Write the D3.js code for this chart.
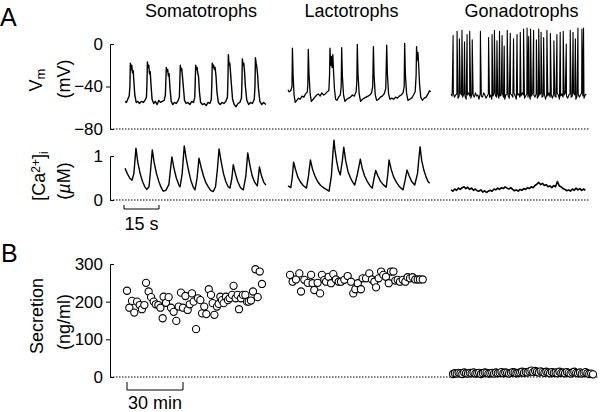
<!DOCTYPE html>
<html><head><meta charset="utf-8">
<script src="https://cdn.jsdelivr.net/npm/d3@7"></script>
<style>body{margin:0;background:#fff}svg{display:block}text{font-family:"Liberation Sans",Arial,sans-serif;fill:#000}</style>
</head><body><svg id="c" width="600" height="412"></svg>
<script>
const cells = ["Somatotrophs","Lactotrophs","Gonadotrophs"];
const vmTicks = [0,-40,-80];
const caTicks = [0,1];
const secTicks = [0,100,200,300];

// Vm traces: [time s, mV]
const somaVm = [[0,-54],[0.6,-55],[1.2,-52],[1.8,-49],[2.1,-40],[2.3,-18],[2.6,-24],[2.9,-20],[3.2,-27],[3.5,-25],[3.8,-35],[4.2,-48],[4.8,-55],[5.5,-54],[6.2,-56],[7,-54],[7.8,-55],[8.6,-53],[9.2,-50],[9.4,-38],[9.6,-17],[9.9,-22],[10.2,-20],[10.5,-28],[10.8,-26],[11.2,-40],[11.6,-52],[12.3,-56],[13,-54],[13.8,-57],[14.5,-53],[15.2,-55],[16,-54],[16.8,-53],[17.3,-48],[17.5,-35],[17.7,-22],[18,-26],[18.3,-24],[18.6,-30],[18.9,-28],[19.3,-42],[19.8,-54],[20.5,-57],[21.2,-55],[22,-56],[22.8,-53],[23.3,-50],[23.5,-35],[23.7,-20],[24,-25],[24.3,-23],[24.6,-30],[25,-40],[25.5,-53],[26.2,-56],[27,-55],[27.8,-57],[28.6,-54],[29.4,-55],[29.9,-50],[30.1,-35],[30.3,-20],[30.6,-24],[30.9,-22],[31.2,-28],[31.5,-30],[31.9,-45],[32.4,-55],[33.2,-57],[34,-56],[34.8,-58],[35.6,-55],[36.4,-56],[37,-52],[37.2,-38],[37.4,-18],[37.7,-22],[38,-20],[38.3,-24],[38.6,-22],[39,-30],[39.4,-45],[40,-55],[40.8,-57],[41.6,-55],[42.4,-56],[43.2,-54],[43.9,-50],[44.1,-35],[44.3,-10],[44.6,-20],[44.9,-18],[45.2,-26],[45.6,-38],[46.1,-52],[46.8,-57],[47.6,-59],[48.4,-56],[49.2,-55],[49.9,-51],[50.1,-38],[50.3,-14],[50.6,-20],[50.9,-18],[51.2,-25],[51.6,-40],[52.2,-53],[53,-57],[53.8,-55],[54.6,-56],[55.4,-52],[55.7,-40],[55.9,-13],[56.2,-18],[56.5,-22],[56.8,-28],[57.2,-42],[57.8,-54],[58.6,-57],[59.4,-55],[60.4,-57]];
const lactoVm = [[0,-43],[0.5,-45],[1.2,-44],[1.7,-40],[1.9,-4],[2.2,-30],[2.6,-48],[3.1,-55],[3.8,-53],[4.5,-51],[5.2,-52],[6,-49],[6.8,-50],[7.5,-47],[8.3,-45],[8.5,-38],[8.7,-5],[9,-28],[9.5,-47],[10,-54],[10.8,-52],[11.5,-50],[12.3,-48],[13,-47],[13.8,-49],[14.5,-46],[15.3,-48],[16,-47],[16.8,-45],[17.5,-44],[17.8,-30],[18,-4],[18.3,-20],[18.6,-12],[18.9,-22],[19.2,-10],[19.5,-25],[19.9,-42],[20.4,-52],[21,-53],[21.7,-50],[22.4,-48],[22.8,-40],[23,-3.5],[23.3,-30],[23.8,-48],[24.4,-54],[25.2,-52],[26,-51],[26.8,-50],[27.6,-48],[28.4,-49],[29.2,-45],[29.5,-35],[29.7,-0.3],[30,-28],[30.5,-47],[31.1,-54],[31.9,-52],[32.7,-51],[33.5,-50],[34.3,-49],[35.1,-48],[35.8,-46],[36.3,-40],[36.6,-2.5],[36.9,-30],[37.4,-48],[38,-53],[38.8,-52],[39.6,-50],[40.4,-49],[41.2,-47],[41.9,-42],[42.3,-1],[42.6,-28],[43.1,-47],[43.7,-52],[44.5,-51],[45.3,-52],[46.1,-50],[46.9,-51],[47.7,-49],[48.5,-48],[49.3,-46],[49.8,-40],[50,0.6],[50.3,-28],[50.8,-46],[51.4,-53],[52.2,-52],[53,-51],[53.8,-48],[54.5,-45],[54.9,-30],[55.1,-2.5],[55.4,-15],[55.7,-8],[56,-20],[56.4,-38],[56.9,-50],[57.6,-53],[58.4,-51],[59.2,-50],[60,-47],[60.6,-44],[61.2,-45]];
const gonadoVmBaseStep = 0.5; // sampling interval, s
const gonadoVmBase = [-47,-49,-46,-50,-48,-47,-51,-49,-46,-48,-50,-47,-49,-52,-48,-46,-49,-51,-47,-48,-50,-46,-49,-48,-52,-47,-49,-50,-46,-48,-51,-49,-47,-50,-48,-52,-49,-46,-48,-50,-47,-51,-49,-48,-46,-50,-52,-48,-47,-49,-51,-47,-48,-50,-46,-49,-52,-48,-47,-50,-49,-46,-48,-51,-49,-47,-50,-48,-52,-49,-46,-48,-50,-47,-51,-49,-48,-46,-50,-49,-47,-52,-48,-49,-46,-50,-48,-51,-47,-49,-50,-46,-48,-52,-49,-47,-50,-48,-46,-49,-51,-48,-47,-50,-49,-46,-48,-52,-49,-47,-50,-48,-46,-49,-51,-48,-47];
const gonadoSpikes = [[0.9,8],[2.6,12],[3.6,5],[4.7,13],[5.8,2],[6.9,9],[8.0,12],[9.1,4],[12.6,12],[16.1,6],[17.6,9],[18.6,13],[19.7,3],[20.8,12],[21.9,8],[22.8,-2],[24.1,13],[25.4,10],[26.8,5],[28.3,9],[29.7,11],[31.1,14],[32.6,15],[33.3,7],[34.1,14],[35.4,13],[36.6,4],[37.6,14],[38.6,11],[39.7,6],[41.1,13],[42.6,10],[44.1,3],[45.4,9],[46.8,11],[48.1,12],[49.4,0],[51.1,13],[52.3,11],[53.3,5],[54.4,15],[56.1,14],[56.8,15]];

// [Ca2+]i traces: [time s, µM]
const somaCa = [[0,0.72],[1,0.6],[2,0.5],[3,0.45],[3.8,0.6],[4.7,1.18],[5.5,0.85],[6.5,0.6],[7.5,0.42],[8.5,0.3],[9.3,0.24],[10.3,0.3],[11,0.7],[11.7,1.14],[12.5,0.85],[13.5,0.6],[14.5,0.42],[15.5,0.28],[16.4,0.2],[17.5,0.22],[18.8,0.35],[19.4,0.65],[20.1,0.98],[21,0.72],[22,0.5],[23,0.35],[23.6,0.3],[24.5,0.6],[25.4,1.23],[26.2,0.95],[27.2,0.68],[28.2,0.45],[29.2,0.3],[30,0.23],[30.9,0.5],[31.7,0.95],[32.6,0.75],[33.6,0.55],[34.6,0.4],[35.7,0.3],[36.7,0.22],[37.8,0.19],[38.8,0.3],[39.6,0.7],[40.3,1.16],[41.2,0.88],[42.2,0.6],[43.2,0.42],[44.2,0.3],[45,0.27],[45.8,0.5],[46.4,0.8],[47.3,0.6],[48.3,0.42],[49.5,0.28],[50.7,0.23],[51.8,0.55],[52.6,1.07],[53.5,0.8],[54.5,0.55],[55.6,0.4],[56.7,0.32],[57.1,0.5],[57.6,0.75],[58.5,0.55],[59.5,0.4],[60.4,0.34]];
const lactoCa = [[0,0.32],[1.2,0.28],[1.8,0.5],[2.4,0.86],[3.2,0.7],[4.2,0.52],[5.2,0.42],[6.5,0.33],[7.9,0.27],[8.8,0.55],[9.6,0.91],[10.5,0.7],[11.5,0.55],[12.7,0.42],[14,0.33],[15.5,0.27],[17.6,0.2],[18.6,0.55],[19.3,1.1],[19.7,1.36],[20.1,1.15],[20.8,0.9],[21.6,0.68],[22.4,0.57],[23.3,0.9],[23.9,1.2],[24.7,0.9],[25.7,0.65],[26.8,0.5],[27.8,0.4],[28.6,0.34],[29.8,0.6],[31,0.93],[31.8,0.72],[32.8,0.55],[34,0.42],[35.2,0.32],[36.1,0.27],[36.9,0.5],[37.6,0.67],[38.5,0.55],[39.6,0.43],[40.8,0.35],[42.1,0.29],[42.8,0.6],[43.3,0.91],[44.2,0.7],[45.3,0.52],[46.5,0.4],[47.8,0.3],[49.3,0.23],[50.2,0.45],[51,0.68],[51.9,0.55],[53,0.42],[54.3,0.34],[55.5,0.6],[56.2,1.0],[56.6,1.21],[57.3,0.9],[58.2,0.68],[59.2,0.52],[60,0.42],[60.7,0.38]];
const gonadoCa = [[0,0.23],[0.8,0.2],[1.6,0.25],[2.4,0.22],[3.2,0.27],[4,0.24],[4.8,0.28],[5.6,0.3],[6.4,0.26],[7.2,0.29],[8,0.24],[8.8,0.27],[9.6,0.22],[10.4,0.25],[11.2,0.21],[12,0.2],[12.8,0.23],[13.6,0.18],[14.4,0.21],[15.2,0.17],[16,0.2],[16.8,0.22],[17.6,0.2],[18.4,0.25],[19.2,0.23],[20,0.27],[20.8,0.24],[21.6,0.28],[22.4,0.26],[23.2,0.3],[24,0.27],[24.8,0.25],[25.6,0.28],[26.4,0.24],[27.2,0.21],[28,0.23],[28.8,0.2],[29.6,0.24],[30.4,0.22],[31.2,0.26],[32,0.24],[32.8,0.28],[33.6,0.26],[34.4,0.3],[35.2,0.28],[36,0.33],[36.8,0.36],[37.6,0.4],[38.4,0.35],[39.2,0.38],[40,0.33],[40.8,0.35],[41.6,0.3],[42.4,0.32],[43.2,0.28],[44,0.33],[44.8,0.3],[45.6,0.42],[46.4,0.32],[47.2,0.3],[48,0.26],[48.8,0.24],[49.6,0.21],[50.4,0.23],[51.2,0.2],[52,0.25],[52.8,0.22],[53.6,0.27],[54.4,0.23],[55.2,0.26],[56,0.22],[56.8,0.25],[57.6,0.22]];

// Secretion: [time min, ng/ml]
const somaSec = [[0,229],[1.25,184],[2.7,202],[3.9,171],[5.4,200],[6.8,191],[8,180],[9.3,191],[10.2,250],[11.6,227],[12.9,212],[14.3,200],[15.4,193],[16.8,191],[17.9,184],[19.1,156],[19.6,213],[20.9,197],[22.3,212],[23.6,184],[25,173],[26.4,149],[27.7,187],[28.9,224],[30,184],[31.3,215],[32.5,178],[33.6,193],[34.8,222],[35.7,200],[37,127],[38,209],[39.3,204],[40.2,169],[41.4,187],[42.5,167],[43.8,233],[45,218],[45.9,196],[46.8,165],[48.2,187],[49.1,194],[50,213],[50.9,204],[51.8,196],[53,213],[54.1,204],[55,209],[56.3,218],[57.1,242],[58.2,209],[59.3,218],[60,180],[61.1,209],[62.1,218],[63.4,218],[64.3,200],[65.2,200],[66.4,203],[67.5,227],[68.8,286],[70,212],[71.1,280],[72.3,247]];
const lactoSec = [[0,271],[1.4,253],[3.2,259],[5,275],[5.9,227],[7.7,258],[9.5,250],[11.3,271],[12.1,249],[13,231],[14.8,250],[16.1,222],[17.1,271],[18.4,258],[19.3,253],[20.7,266],[22,249],[23.2,273],[24.6,259],[26.1,253],[27.3,253],[29.1,258],[30.9,268],[32.7,253],[33.9,222],[35,233],[36.3,249],[38,233],[38.9,262],[40.7,262],[42.5,275],[43.9,259],[45.2,253],[46.1,238],[47.5,262],[48.8,280],[50,271],[51.4,266],[52.9,249],[54.1,280],[55.4,280],[56.4,256],[57.7,258],[58.9,253],[60.4,258],[61.8,253],[63,265],[64.3,262],[65.7,265],[67.1,259],[68.4,259],[69.6,259],[71.1,259]];
const gonadoSecStep = 1; // min
const gonadoSec = [8,10,9,11,10,8,12,10,9,11,10,12,9,10,11,8,10,12,11,9,10,11,9,12,10,11,13,10,12,11,9,11,13,12,10,11,12,14,11,13,12,15,17,13,16,14,12,15,13,11,14,12,10,13,11,12,10,14,11,12,10,13,11,9,12,14,11,10,12,9,11,13,10,8,9,7];

const svg = d3.select("#c");
const FONT = 18;

// ---------- Panel A scales ----------
const bandA = d3.scaleBand().domain(cells).range([125, 592]).paddingInner(22/163);
const tA = d3.scaleLinear().domain([0, 15]).range([0, 35]);
const yVm = d3.scaleLinear().domain([-80, 0]).range([129, 44]);
const yCa = d3.scaleLinear().domain([0, 1]).range([200, 156]);
// ---------- Panel B scales ----------
const bandB = d3.scaleBand().domain(cells).range([127, 594]).paddingInner(22/163);
const tB = d3.scaleLinear().domain([0, 30]).range([0, 56]);
const ySec = d3.scaleLinear().domain([0, 300]).range([377, 264]);

const AX = 110;

function drawAxis(scale, ticks) {
  const [lo, hi] = scale.domain();
  const g = svg.append("g").attr("transform", `translate(${AX},0)`)
    .call(d3.axisLeft(scale).tickValues(ticks).tickFormat(d3.format("d"))
      .tickSizeInner(4).tickSizeOuter(-4).tickPadding(3));
  g.selectAll("text").style("font-size", "17px").attr("font-family", null);
  g.select(".domain").attr("stroke", "#000").attr("stroke-width", 1);
  g.selectAll(".tick line").attr("stroke", "#000").attr("stroke-width", 1)
    .attr("display", d => (d === lo || d === hi) ? "none" : null);
  g.selectAll(".tick text").attr("x", -7);
}
function dotted(y, x1) {
  svg.append("line").attr("x1", AX).attr("x2", x1).attr("y1", y).attr("y2", y)
    .attr("stroke", "#000").attr("stroke-width", 1).attr("stroke-dasharray", "1.5,1.5");
}

dotted(yVm(-80), 589);
dotted(yCa(0), 589);
dotted(ySec(0), 598);
drawAxis(yVm, vmTicks);
drawAxis(yCa, caTicks);
drawAxis(ySec, secTicks);

// Traces
function trace(data, cell, y, w) {
  const x0 = bandA(cell);
  svg.append("path").datum(data)
    .attr("d", d3.line().x(d => x0 + tA(d[0])).y(d => y(d[1])))
    .attr("fill", "none").attr("stroke", "#000").attr("stroke-width", w).attr("stroke-linejoin", "round");
}
trace(somaVm, cells[0], yVm, 1.4);
trace(lactoVm, cells[1], yVm, 1.3);
const gonadoVm = gonadoVmBase.map((v, i) => [i * gonadoVmBaseStep, v]).concat(gonadoSpikes)
  .sort((a, b) => a[0] - b[0]);
trace(gonadoVm, cells[2], yVm, 1.1);
trace(somaCa, cells[0], yCa, 1.4);
trace(lactoCa, cells[1], yCa, 1.4);
trace(gonadoCa, cells[2], yCa, 1.6);

// Secretion circles
function circles(data, cell) {
  const x0 = bandB(cell);
  svg.append("g").selectAll("circle").data(data).join("circle")
    .attr("cx", d => x0 + tB(d[0])).attr("cy", d => ySec(d[1])).attr("r", 3.6)
    .attr("fill", "#fff").attr("stroke", "#000").attr("stroke-width", 1.1);
}
circles(somaSec, cells[0]);
circles(lactoSec, cells[1]);
circles(gonadoSec.map((v, i) => [i * gonadoSecStep, v]), cells[2]);

// Titles
const titleX = {"Somatotrophs": 201, "Lactotrophs": 351.5, "Gonadotrophs": 521.5};
cells.forEach(c => svg.append("text").attr("x", titleX[c]).attr("y", 17)
  .attr("text-anchor", "middle").style("font-size", FONT + "px").text(c));

// Panel letters
svg.append("text").attr("x", 0).attr("y", 26).style("font-size", "25px").text("A");
svg.append("text").attr("x", 1).attr("y", 262).style("font-size", "25px").text("B");

// Y titles
function rotLabel(x, y) {
  return svg.append("text").attr("transform", `translate(${x},${y}) rotate(-90)`)
    .attr("text-anchor", "middle").style("font-size", FONT + "px");
}
let t = rotLabel(42, 80); t.append("tspan").text("V");
t.append("tspan").attr("baseline-shift", "-25%").style("font-size", "13px").text("m");
rotLabel(70, 79).text("(mV)");
t = rotLabel(45, 176); t.append("tspan").text("[Ca");
t.append("tspan").attr("baseline-shift", "40%").style("font-size", "12px").text("2+");
t.append("tspan").text("]");
t.append("tspan").attr("baseline-shift", "-25%").style("font-size", "12px").text("i");
t = rotLabel(70, 181); t.append("tspan").text("(");
t.append("tspan").style("font-style", "italic").text("µ");
t.append("tspan").text("M)");
rotLabel(43, 316).text("Secretion");
rotLabel(70, 322).text("(ng/ml)");

// Scale bars
const sb0 = bandA(cells[0]) - 1;
svg.append("path").attr("d", `M${sb0},205V209H${sb0 + tA(15)}V205`).attr("fill", "none").attr("stroke", "#000");
svg.append("text").attr("x", sb0 + tA(15) / 2).attr("y", 230).attr("text-anchor", "middle").style("font-size", FONT + "px").text("15 s");
const sb1 = bandB(cells[0]);
svg.append("path").attr("d", `M${sb1},382V390H${sb1 + tB(30)}V382`).attr("fill", "none").attr("stroke", "#000");
svg.append("text").attr("x", sb1 + tB(30) / 2).attr("y", 409).attr("text-anchor", "middle").style("font-size", FONT + "px").text("30 min");
</script></body></html>
